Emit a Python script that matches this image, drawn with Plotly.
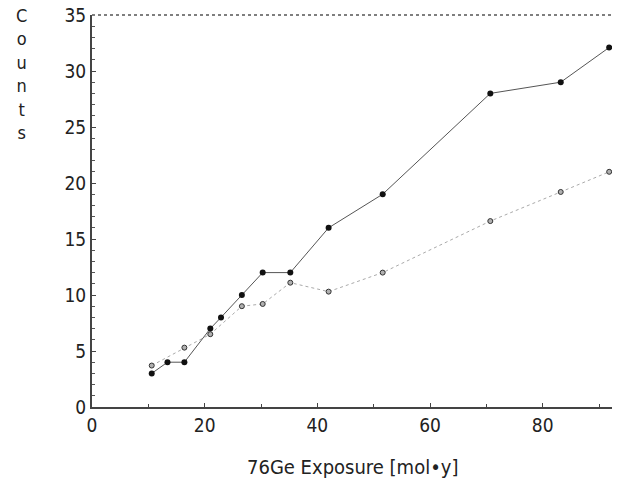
import plotly.graph_objects as go

exposure = [10.6, 13.4, 16.4, 21.0, 22.9, 26.6, 30.3, 35.2, 42.0, 51.6, 70.7, 83.2, 91.8]
counts_obs = [3, 4, 4, 7, 8, 10, 12, 12, 16, 19, 28, 29, 32.1]

exposure_b = [10.6, 16.4, 21.0, 26.6, 30.3, 35.2, 42.0, 51.6, 70.7, 83.2, 91.8]
counts_b = [3.7, 5.3, 6.5, 9.0, 9.2, 11.1, 10.3, 12.0, 16.6, 19.2, 21.0]

x_ticks = [0, 20, 40, 60, 80]
y_ticks = [0, 5, 10, 15, 20, 25, 30, 35]

FONT = "DejaVu Sans Condensed, DejaVu Sans"

fig = go.Figure()
fig.add_trace(go.Scatter(
    x=exposure_b, y=counts_b, mode="lines+markers",
    line=dict(color="#aaaaaa", width=1, dash="dot"),
    marker=dict(symbol="circle", size=5, color="#b0b0b0",
                line=dict(color="#333333", width=1)),
    showlegend=False))
fig.add_trace(go.Scatter(
    x=exposure, y=counts_obs, mode="lines+markers",
    line=dict(color="#555555", width=1),
    marker=dict(symbol="circle", size=6, color="#111111"),
    showlegend=False))

fig.update_layout(
    width=623, height=485,
    margin=dict(l=92, r=11, t=15, b=78, autoexpand=False),
    paper_bgcolor="white", plot_bgcolor="white",
    font=dict(family=FONT, size=19, color="#222222"),
    xaxis=dict(range=[0, 92.3], tickvals=x_ticks, ticktext=[str(v) for v in x_ticks],
               showgrid=False, zeroline=False, showline=True, linecolor="#444444",
               linewidth=2, ticks="inside", ticklen=4, tickcolor="#444444",
               automargin=False,
               minor=dict(tickvals=[10, 30, 50, 70, 90], ticks="inside", ticklen=3,
                          tickcolor="#444444"),
               tickfont=dict(size=19)),
    yaxis=dict(range=[0, 35], tickvals=y_ticks, ticktext=[str(v) for v in y_ticks],
               showgrid=False, zeroline=False, showline=True, linecolor="#444444",
               linewidth=2, ticks="inside", ticklen=4, tickcolor="#444444",
               automargin=False,
               minor=dict(dtick=1, ticks="inside", ticklen=3, tickcolor="#555555"),
               tickfont=dict(size=19)),
)

fig.add_shape(type="line", xref="paper", yref="paper", x0=0, x1=1, y0=1, y1=1,
              line=dict(color="#555555", width=1.5, dash="dot"))

fig.add_annotation(text="C<br>o<br>u<br>n<br>t<br>s", xref="paper", yref="paper",
                   x=-0.135, y=1.03, xanchor="center", yanchor="top", showarrow=False,
                   font=dict(family=FONT, size=18, color="#222222"), align="center")
fig.add_annotation(text="76Ge Exposure [mol\u2022y]", xref="paper", yref="paper",
                   x=0.5, y=-0.153, xanchor="center", yanchor="middle", showarrow=False,
                   font=dict(family=FONT, size=20, color="#222222"))

fig.write_html("out.html", config={"displayModeBar": False},
               post_script="document.body.style.margin='0';")
